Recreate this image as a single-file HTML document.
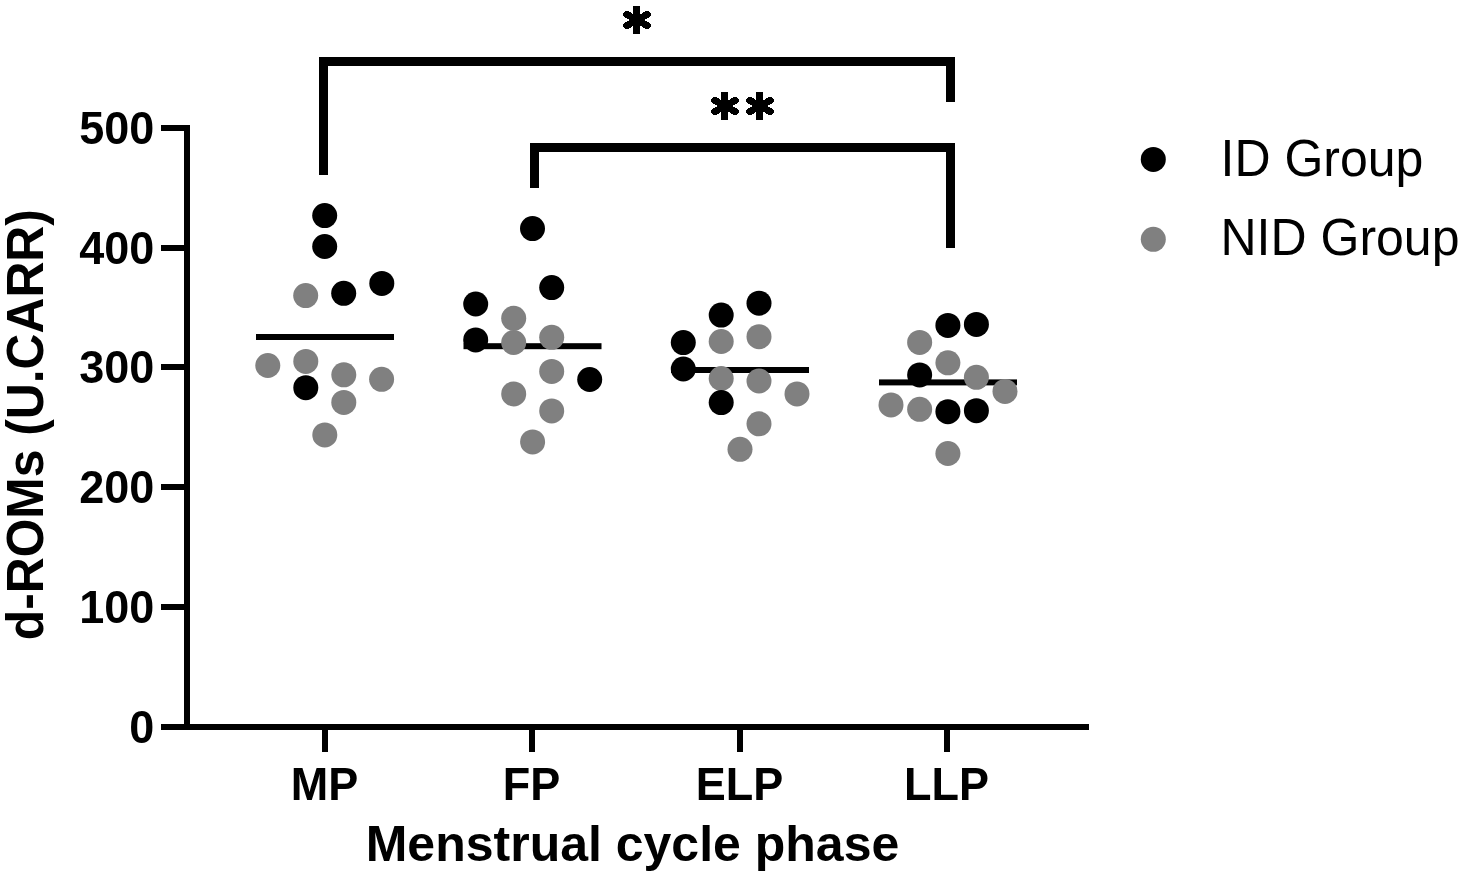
<!DOCTYPE html>
<html><head><meta charset="utf-8"><style>
html,body{margin:0;padding:0;background:#fff;width:1464px;height:877px;overflow:hidden}
svg{display:block;filter:grayscale(1)}
text{-webkit-font-smoothing:antialiased}
text{font-family:"Liberation Sans",sans-serif;fill:#000}
.tl{font-weight:bold;font-size:45px}
.at{font-weight:bold;font-size:50px}
.lg{font-weight:normal;font-size:50px}
.yt{font-weight:bold;font-size:49.75px}
</style></head><body>
<svg width="1464" height="877" viewBox="0 0 1464 877">
<rect x="184" y="125" width="6" height="605"/>
<rect x="161" y="724" width="928" height="6"/>
<rect x="161" y="125" width="29" height="6"/>
<rect x="161" y="245" width="29" height="6"/>
<rect x="161" y="364" width="29" height="6"/>
<rect x="161" y="484" width="29" height="6"/>
<rect x="161" y="604" width="29" height="6"/>
<rect x="161" y="724" width="29" height="6"/>
<rect x="322" y="730" width="6" height="22"/>
<rect x="529" y="730" width="6" height="22"/>
<rect x="737" y="730" width="6" height="22"/>
<rect x="944" y="730" width="6" height="22"/>
<rect x="256" y="334" width="138" height="6"/>
<rect x="463.5" y="343.2" width="138.0" height="6"/>
<rect x="671" y="367" width="138" height="6"/>
<rect x="879" y="379.4" width="138" height="6"/>
<circle cx="305.7" cy="295.6" r="12.5" fill="#808080"/>
<circle cx="267.8" cy="365.5" r="12.5" fill="#808080"/>
<circle cx="305.8" cy="361.4" r="12.5" fill="#808080"/>
<circle cx="343.8" cy="374.8" r="12.5" fill="#808080"/>
<circle cx="381.6" cy="379.3" r="12.5" fill="#808080"/>
<circle cx="343.8" cy="402.4" r="12.5" fill="#808080"/>
<circle cx="324.8" cy="434.9" r="12.5" fill="#808080"/>
<circle cx="324.7" cy="215.6" r="12.5"/>
<circle cx="324.7" cy="246.5" r="12.5"/>
<circle cx="343.7" cy="293.3" r="12.5"/>
<circle cx="381.8" cy="283.4" r="12.5"/>
<circle cx="305.8" cy="387.7" r="12.5"/>
<circle cx="513.7" cy="318.3" r="12.5" fill="#808080"/>
<circle cx="513.7" cy="342.5" r="12.5" fill="#808080"/>
<circle cx="551.7" cy="337.3" r="12.5" fill="#808080"/>
<circle cx="551.7" cy="371.4" r="12.5" fill="#808080"/>
<circle cx="513.7" cy="393.9" r="12.5" fill="#808080"/>
<circle cx="551.7" cy="410.9" r="12.5" fill="#808080"/>
<circle cx="532.6" cy="441.9" r="12.5" fill="#808080"/>
<circle cx="532.5" cy="228.6" r="12.5"/>
<circle cx="551.7" cy="287.6" r="12.5"/>
<circle cx="475.7" cy="304" r="12.5"/>
<circle cx="475.7" cy="339.9" r="12.5"/>
<circle cx="589.7" cy="379.5" r="12.5"/>
<circle cx="759" cy="336.7" r="12.5" fill="#808080"/>
<circle cx="721.2" cy="341.5" r="12.5" fill="#808080"/>
<circle cx="721.2" cy="378.5" r="12.5" fill="#808080"/>
<circle cx="759" cy="381" r="12.5" fill="#808080"/>
<circle cx="797" cy="393.9" r="12.5" fill="#808080"/>
<circle cx="759" cy="423.8" r="12.5" fill="#808080"/>
<circle cx="740" cy="449.3" r="12.5" fill="#808080"/>
<circle cx="759" cy="303.2" r="12.5"/>
<circle cx="721.2" cy="315.1" r="12.5"/>
<circle cx="683.3" cy="342.6" r="12.5"/>
<circle cx="683.3" cy="369" r="12.5"/>
<circle cx="721.2" cy="402.6" r="12.5"/>
<circle cx="919.65" cy="342.4" r="12.5" fill="#808080"/>
<circle cx="947.9" cy="362.8" r="12.5" fill="#808080"/>
<circle cx="976.4" cy="377.3" r="12.5" fill="#808080"/>
<circle cx="1005" cy="391.4" r="12.5" fill="#808080"/>
<circle cx="891" cy="404.9" r="12.5" fill="#808080"/>
<circle cx="919.65" cy="409.3" r="12.5" fill="#808080"/>
<circle cx="947.9" cy="453.5" r="12.5" fill="#808080"/>
<circle cx="947.9" cy="325.4" r="12.5"/>
<circle cx="976.4" cy="324.4" r="12.5"/>
<circle cx="919.65" cy="374.9" r="12.5"/>
<circle cx="947.9" cy="411.7" r="12.5"/>
<circle cx="976.4" cy="410.7" r="12.5"/>
<path d="M323.5 175 V61.5 H950.5 V102" fill="none" stroke="#000" stroke-width="9" stroke-linejoin="miter" stroke-linecap="butt"/>
<path d="M534.5 188 V147.5 H950.5 V248" fill="none" stroke="#000" stroke-width="9" stroke-linejoin="miter" stroke-linecap="butt"/>
<g shape-rendering="crispEdges"><rect x="633.0" y="6" width="7" height="28"/><line x1="626.63" y1="14.37" x2="647.37" y2="25.63" stroke="#000" stroke-width="7" stroke-linecap="round"/><line x1="626.63" y1="25.63" x2="647.37" y2="14.37" stroke="#000" stroke-width="7" stroke-linecap="round"/></g>
<g shape-rendering="crispEdges"><rect x="721.0" y="92" width="7" height="28"/><line x1="714.63" y1="100.37" x2="735.37" y2="111.63" stroke="#000" stroke-width="7" stroke-linecap="round"/><line x1="714.63" y1="111.63" x2="735.37" y2="100.37" stroke="#000" stroke-width="7" stroke-linecap="round"/></g>
<g shape-rendering="crispEdges"><rect x="756.0" y="92" width="7" height="28"/><line x1="749.63" y1="100.37" x2="770.37" y2="111.63" stroke="#000" stroke-width="7" stroke-linecap="round"/><line x1="749.63" y1="111.63" x2="770.37" y2="100.37" stroke="#000" stroke-width="7" stroke-linecap="round"/></g>
<text transform="translate(154.4 143.6) scale(1 1.04)" text-anchor="end" class="tl">500</text>
<text transform="translate(154.4 263.6) scale(1 1.04)" text-anchor="end" class="tl">400</text>
<text transform="translate(154.4 382.6) scale(1 1.04)" text-anchor="end" class="tl">300</text>
<text transform="translate(154.4 502.6) scale(1 1.04)" text-anchor="end" class="tl">200</text>
<text transform="translate(154.4 622.6) scale(1 1.04)" text-anchor="end" class="tl">100</text>
<text transform="translate(154.4 742.6) scale(1 1.04)" text-anchor="end" class="tl">0</text>
<text transform="translate(324.5 800) scale(1 1.04)" text-anchor="middle" class="tl">MP</text>
<text transform="translate(531.5 800) scale(1 1.04)" text-anchor="middle" class="tl">FP</text>
<text transform="translate(739.5 800) scale(1 1.04)" text-anchor="middle" class="tl">ELP</text>
<text transform="translate(946.5 800) scale(1 1.04)" text-anchor="middle" class="tl">LLP</text>
<text transform="translate(632.5 860.8) scale(1 1.01)" text-anchor="middle" class="at">Menstrual cycle phase</text>
<g style="font-size:49.75px"><text transform="translate(43.1 424.7) rotate(-90) scale(1 1.04)" text-anchor="middle" class="yt">d-ROMs (U.CARR)</text></g>
<circle cx="1153.3" cy="159.4" r="12.5"/>
<circle cx="1153.3" cy="239.3" r="12.5" fill="#808080"/>
<text transform="translate(1220.5 175.5) scale(1 1.02)" text-anchor="start" class="lg">ID Group</text>
<text transform="translate(1220.5 255.3) scale(1 1.02)" text-anchor="start" class="lg">NID Group</text>
</svg>
</body></html>
